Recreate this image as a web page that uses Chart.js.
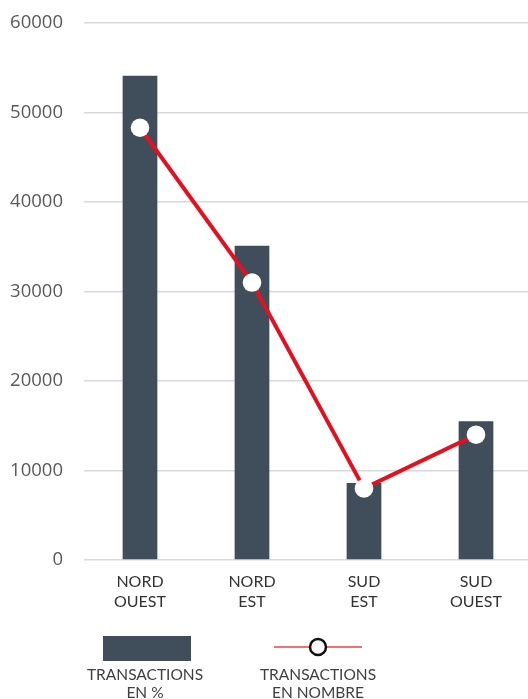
<!DOCTYPE html>
<html>
<head>
<meta charset="utf-8">
<script src="https://cdn.jsdelivr.net/npm/chart.js@4"></script>
<style>
  html, body { margin: 0; padding: 0; background: #fff; overflow: hidden; }
  #wrap { width: 532px; height: 699px; position: relative; }
</style>
</head>
<body>
<div id="wrap"><canvas id="c"></canvas></div>
<script>
// Regions and their values
const categories = [["NORD", "OUEST"], ["NORD", "EST"], ["SUD", "EST"], ["SUD", "OUEST"]];
const transactionsPct = [54100, 35100, 8600, 15500];
const transactionsNombre = [48300, 31000, 8000, 14000];
const yTicks = [0, 10000, 20000, 30000, 40000, 50000, 60000];
const legendLabels = [["TRANSACTIONS", "EN %"], ["TRANSACTIONS", "EN NOMBRE"]];

const BAR = '#3f4e5a';
const RED = '#e3101f';

// Legend drawn under the axis labels: a block for the bars, a line with a ring for the line series
const bottomLegend = {
  id: 'bottomLegend',
  afterDraw(chart) {
    const ctx = chart.ctx;
    ctx.save();
    // bar swatch
    ctx.fillStyle = BAR;
    ctx.fillRect(103, 636, 88, 25);
    // line swatch
    ctx.strokeStyle = '#e8424f';
    ctx.lineWidth = 1.5;
    ctx.beginPath();
    ctx.moveTo(274, 647);
    ctx.lineTo(362, 647);
    ctx.stroke();
    ctx.beginPath();
    ctx.arc(318, 647, 8, 0, Math.PI * 2);
    ctx.fillStyle = '#fff';
    ctx.fill();
    ctx.strokeStyle = '#111';
    ctx.lineWidth = 2.5;
    ctx.stroke();
    // labels
    ctx.fillStyle = '#404040';
    ctx.font = '15.5px Lato';
    ctx.textAlign = 'center';
    ctx.textBaseline = 'middle';
    const centers = [145, 318];
    legendLabels.forEach((lines, i) => {
      lines.forEach((t, j) => ctx.fillText(t, centers[i], 675 + j * 18));
    });
    ctx.restore();
  }
};

new Chart(document.getElementById('c'), {
  data: {
    labels: categories,
    datasets: [
      {
        type: 'line',
        label: 'TRANSACTIONS EN NOMBRE',
        data: transactionsNombre,
        borderColor: RED,
        borderWidth: 4,
        pointRadius: 9.3,
        pointHoverRadius: 9.3,
        pointBackgroundColor: '#fff',
        pointBorderWidth: 0,
        tension: 0,
        order: 0
      },
      {
        type: 'bar',
        label: 'TRANSACTIONS EN %',
        data: transactionsPct,
        backgroundColor: BAR,
        categoryPercentage: 1,
        barPercentage: 0.31,
        order: 1
      }
    ]
  },
  options: {
    responsive: true,
    maintainAspectRatio: false,
    animation: false,
    layout: { autoPadding: false, padding: { top: 23, right: 0, bottom: 0, left: 0 } },
    plugins: { legend: { display: false }, tooltip: { enabled: false } },
    scales: {
      x: {
        grid: { display: false, drawTicks: false },
        border: { display: false },
        ticks: { color: '#333', font: { family: 'Lato', size: 16, lineHeight: 1.25 }, padding: 12, maxRotation: 0 },
        afterFit(s) { s.height = 139; s.paddingLeft = 0; s.paddingRight = 0; }
      },
      y: {
        min: 0,
        max: 60000,
        afterBuildTicks(s) { s.ticks = yTicks.map(v => ({ value: v })); },
        grid: { color: '#d9d9d9', lineWidth: 1.5, drawTicks: false },
        border: { display: false },
        ticks: {
          color: '#595959',
          font: { family: 'Open Sans', size: 18.5 },
          padding: 21,
          callback: v => String(v)
        },
        afterFit(s) { s.width = 84; s.paddingTop = 0; s.paddingBottom = 0; }
      }
    }
  },
  plugins: [bottomLegend]
});
</script>
</body>
</html>
